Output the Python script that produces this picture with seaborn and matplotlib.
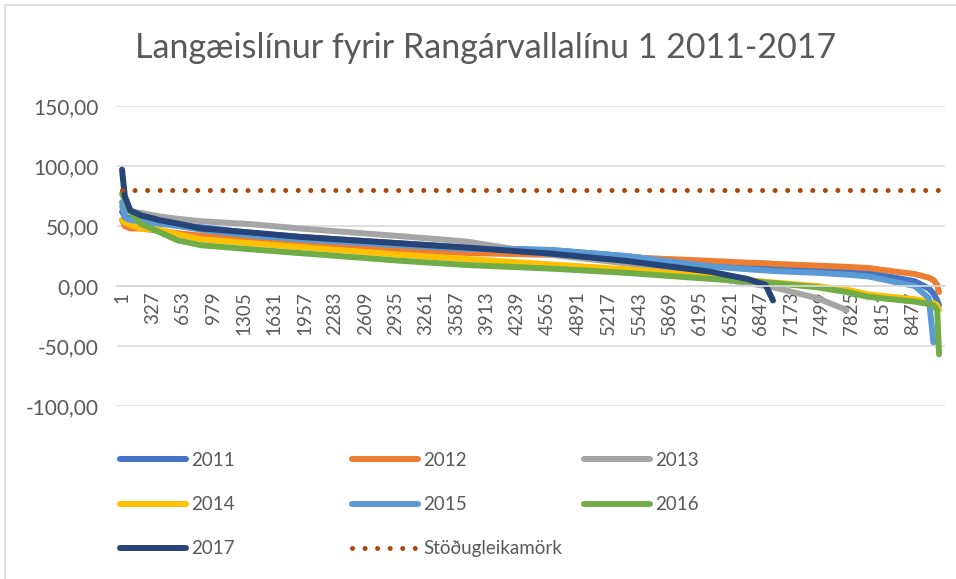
import numpy as np
import pandas as pd
import seaborn as sns
import matplotlib.pyplot as plt
from matplotlib.lines import Line2D
from matplotlib.patches import Rectangle

nan = np.nan

# hour index along the duration curve
hours = [1, 30, 90, 200, 400, 600, 850, 1400, 1900, 3000, 3700, 4600, 5400,
         6300, 6700, 6900, 6980, 7450, 7770, 8000, 8500, 8650, 8700, 8740, 8760]

y2011 = [62, 58, 56, 55, 53, 51, 49, 44, 41, 35.5, 32, 30, 25, 17.5, 15.5, 14.5,
         14, 13, 12, 11, 4, -2, -6, -12, -16]
y2012 = [55, 50, 48, 48, 46, 44, 42, 39.5, 36, 30, 27.5, 26, 24, 21, 19.5, 19,
         18.5, 17, 16, 15, 10, 7, 5, 1, -5]
y2013 = [66, 63, 62, 61, 58, 56, 54, 51.5, 48, 41.5, 37, 26, 19, 7, 2.5, 0, -1,
         -10, -20, nan, nan, nan, nan, nan, nan]
y2014 = [55, 53, 51, 48, 47, 43, 39, 35.5, 32.5, 26, 22.5, 18, 14, 8, 5, 3.5, 3,
         0, -3, -7, -11, -13, -14, -16, -20]
y2015 = [70, 57, 55, 54, 52, 50, 47, 42, 39, 34, 31, 30, 25, 16.5, 14, 13, 12.5,
         11, 9.5, 8, 0, -10, -47, nan, nan]
y2016 = [77, 72, 62, 52, 45, 38, 34, 30.5, 27.5, 21, 17.5, 14.5, 11, 6, 4, 3, 2.5,
         -1, -5, -9, -13, -15, -16, -20, -57]
y2017 = [97, 75, 63, 59, 55, 52, 48, 44.5, 41, 35.5, 32, 27, 21, 12, 6, 1, -12,
         nan, nan, nan, nan, nan, nan, nan, nan]

years = ["2011", "2012", "2013", "2014", "2015", "2016", "2017"]
colors = ["#4472C4", "#ED7D31", "#A5A5A5", "#FFC000", "#5B9BD5", "#70AD47", "#264478"]

limit_name = "Stöðugleikamörk"
limit_hours = [1, 8760]
limit_value = [80, 80]

xticks = [1, 327, 653, 979, 1305, 1631, 1957, 2283, 2609, 2935, 3261, 3587,
          3913, 4239, 4565, 4891, 5217, 5543, 5869, 6195, 6521, 6847, 7173,
          7499, 7825, 8151, 8477]
yticks = [-100, -50, 0, 50, 100, 150]

title = "Langæislínur fyrir Rangárvallalínu 1 2011-2017"

series = [y2011, y2012, y2013, y2014, y2015, y2016, y2017]
df = pd.concat([pd.DataFrame({"hour": hours, "value": v, "year": y})
                for y, v in zip(years, series)]).dropna()

sns.set_theme(style="white")
plt.rcParams["font.family"] = ["Lato", "DejaVu Sans"]
grey = "#595959"

fig = plt.figure(figsize=(9.56, 5.79), dpi=100)
ax = fig.add_axes([0.1224, 0.2988, 0.866, 0.518])

ax.set_yticks(yticks)
ax.grid(axis="y", color="#D9D9D9", linewidth=1.2)
ax.set_axisbelow(True)

sns.lineplot(data=df, x="hour", y="value", hue="year", palette=colors,
             estimator=None, sort=False, linewidth=4.3, legend=False,
             solid_capstyle="round", ax=ax)
dot_color = "#A8480F"
ax.plot(limit_hours, limit_value, color=dot_color, linewidth=3.6,
        linestyle=(0, (0.01, 2.5)), dash_capstyle="round")

ax.set_xlim(-53, 8823)
ax.set_ylim(-100, 150)
ax.set_xticks(xticks)
ax.set_xticklabels([str(t) for t in xticks])
ax.set_yticklabels([f"{t:.2f}".replace(".", ",") for t in yticks])
ax.tick_params(axis="x", length=0, pad=4, labelsize=13.5, labelcolor=grey,
               labelrotation=90)
ax.tick_params(axis="y", length=0, pad=13, labelsize=15, labelcolor=grey)
ax.set_xlabel("")
ax.set_ylabel("")
for side in ["top", "right", "left"]:
    ax.spines[side].set_visible(False)
ax.spines["bottom"].set_position(("data", 0))
ax.spines["bottom"].set_color("#D9D9D9")

fig.text(0.508, 1 - 48 / 579, title, ha="center", va="center",
         fontsize=24.5, color=grey)

# legend in three columns like the Excel layout
handles = [Line2D([], [], color=c, linewidth=4.3, solid_capstyle="round")
           for c in colors]
handles.append(Line2D([], [], color=dot_color, linewidth=3.6,
                      linestyle=(0, (0.01, 2.5)), dash_capstyle="round"))
labels = years + [limit_name]
columns = [[0, 3, 6], [1, 4, 7], [2, 5]]
col_x = [120, 352, 584]
for idx, x0 in zip(columns, col_x):
    fig.legend([handles[i] for i in idx], [labels[i] for i in idx],
               loc="upper left", bbox_to_anchor=(x0 / 956, 1 - 452 / 579),
               frameon=False, borderpad=0, borderaxespad=0,
               fontsize=13.5, labelcolor=grey, handlelength=3.5,
               handletextpad=0.3, labelspacing=1.45)

fig.patches.append(Rectangle((5 / 956, -0.1), 1.2, 1 - 5 / 579 + 0.1,
                             transform=fig.transFigure, fill=False,
                             edgecolor="#D9D9D9", linewidth=1.2))

fig.savefig("out.png", dpi=100)
